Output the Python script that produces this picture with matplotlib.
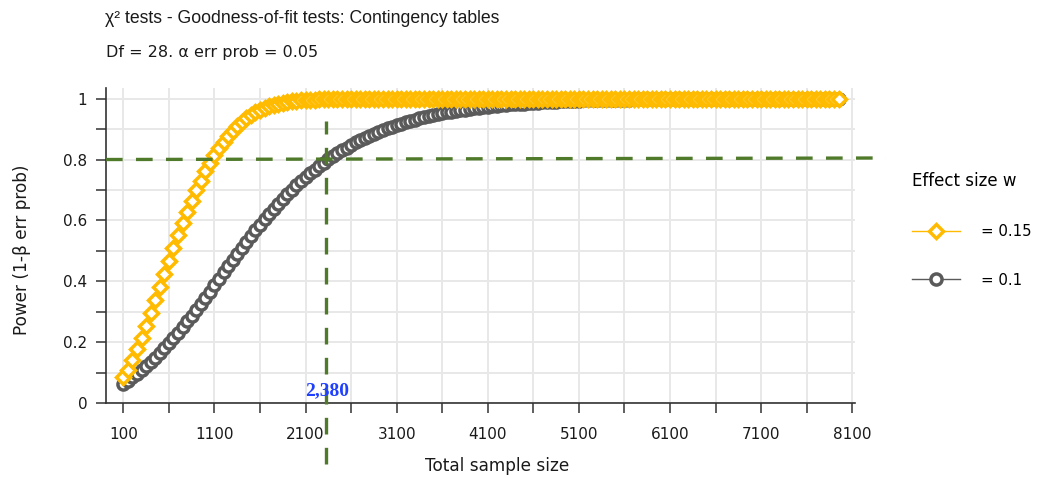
import matplotlib
matplotlib.use("Agg")
import matplotlib.pyplot as plt
from matplotlib.ticker import FixedLocator, FixedFormatter

plt.rcParams["font.family"] = ["DejaVu Sans"]

# total sample size, one marker every 50
sample_sizes = list(range(100, 8000, 50))

# power for w = 0.1 (grey circles)
power_w010 = [
    0.063, 0.073, 0.084, 0.096, 0.108, 0.121, 0.135, 0.149, 0.164, 0.180,
    0.196, 0.213, 0.230, 0.249, 0.268, 0.287, 0.306, 0.326, 0.346, 0.366,
    0.387, 0.408, 0.429, 0.450, 0.470, 0.490, 0.510, 0.530, 0.549, 0.568,
    0.586, 0.604, 0.621, 0.638, 0.655, 0.671, 0.686, 0.701, 0.715, 0.729,
    0.742, 0.755, 0.767, 0.779, 0.790, 0.801, 0.811, 0.821, 0.830, 0.839,
    0.848, 0.856, 0.864, 0.871, 0.878, 0.885, 0.891, 0.897, 0.903, 0.908,
    0.913, 0.918, 0.923, 0.927, 0.931, 0.935, 0.939, 0.942, 0.946, 0.949,
    0.952, 0.955, 0.957, 0.960, 0.962, 0.964, 0.966, 0.968, 0.970, 0.972,
    0.974, 0.975, 0.977, 0.978, 0.980, 0.981, 0.982, 0.983, 0.984, 0.985,
    0.986, 0.987, 0.988, 0.989, 0.990, 0.990, 0.991, 0.992, 0.992, 0.993,
    0.993, 0.994, 0.994, 0.995, 0.995, 0.996, 0.996, 0.996, 0.997, 0.997,
    0.997, 0.997, 0.998, 0.998, 0.998, 0.998, 0.998, 0.999, 0.999, 0.999,
    0.999, 0.999, 0.999, 0.999, 0.999, 0.999, 0.999, 1.0, 1.0, 1.0,
    1.0, 1.0, 1.0, 1.0, 1.0, 1.0, 1.0, 1.0, 1.0, 1.0,
    1.0, 1.0, 1.0, 1.0, 1.0, 1.0, 1.0, 1.0, 1.0, 1.0,
    1.0, 1.0, 1.0, 1.0, 1.0, 1.0, 1.0, 1.0,
]

# power for w = 0.15 (yellow diamonds)
power_w015 = [
    0.085, 0.110, 0.142, 0.177, 0.215, 0.254, 0.296, 0.338, 0.381, 0.424,
    0.467, 0.510, 0.551, 0.591, 0.629, 0.665, 0.699, 0.731, 0.761, 0.789,
    0.814, 0.838, 0.859, 0.878, 0.895, 0.910, 0.924, 0.936, 0.946, 0.955,
    0.963, 0.969, 0.975, 0.979, 0.983, 0.986, 0.989, 0.991, 0.993, 0.994,
    0.995, 0.996, 0.997, 0.998, 0.998, 0.999, 0.999, 0.999, 0.999, 0.999,
    0.999, 0.999, 0.999, 1.0, 1.0, 1.0, 1.0, 1.0, 1.0, 1.0,
    1.0, 1.0, 1.0, 1.0, 1.0, 1.0, 1.0, 1.0, 1.0, 1.0,
    1.0, 1.0, 1.0, 1.0, 1.0, 1.0, 1.0, 1.0, 1.0, 1.0,
    1.0, 1.0, 1.0, 1.0, 1.0, 1.0, 1.0, 1.0, 1.0, 1.0,
    1.0, 1.0, 1.0, 1.0, 1.0, 1.0, 1.0, 1.0, 1.0, 1.0,
    1.0, 1.0, 1.0, 1.0, 1.0, 1.0, 1.0, 1.0, 1.0, 1.0,
    1.0, 1.0, 1.0, 1.0, 1.0, 1.0, 1.0, 1.0, 1.0, 1.0,
    1.0, 1.0, 1.0, 1.0, 1.0, 1.0, 1.0, 1.0, 1.0, 1.0,
    1.0, 1.0, 1.0, 1.0, 1.0, 1.0, 1.0, 1.0, 1.0, 1.0,
    1.0, 1.0, 1.0, 1.0, 1.0, 1.0, 1.0, 1.0, 1.0, 1.0,
    1.0, 1.0, 1.0, 1.0, 1.0, 1.0, 1.0, 1.0,
]

x_major = [100, 1100, 2100, 3100, 4100, 5100, 6100, 7100, 8100]
x_minor = [600, 1600, 2600, 3600, 4600, 5600, 6600, 7600]
y_major = [0, 0.2, 0.4, 0.6, 0.8, 1.0]
y_major_labels = ["0", "0.2", "0.4", "0.6", "0.8", "1"]
y_minor = [0.1, 0.3, 0.5, 0.7, 0.9]

target_power = 0.8
marked_n = 2320
marked_label = "2,380"

YELLOW = "#FFBB00"
GREY = "#5a5a5a"
GREEN = "#4f7a2a"
TEXT = "#1a1a1a"

fig = plt.figure(figsize=(10.37, 4.78), dpi=100)
ax = fig.add_axes([0.1022, 0.1569, 0.7223, 0.659])

ax.plot(sample_sizes, power_w010, color=GREY, lw=1, marker="o", ms=8,
        mfc="white", mec=GREY, mew=2.5, label="= 0.1", zorder=3)
ax.plot(sample_sizes, power_w015, color=YELLOW, lw=1, marker="D", ms=7,
        mfc="white", mec=YELLOW, mew=2.5, label="= 0.15", zorder=4)

# dashed reference lines, running past the axes
ax.plot([-90, 8470], [target_power, target_power + 0.005], color=GREEN,
        lw=2.4, dashes=(5, 4), clip_on=False, zorder=5)
ax.plot([marked_n, marked_n], [-0.2, 0.925], color=GREEN,
        lw=2.4, dashes=(5, 4), clip_on=False, zorder=5)
ax.text(marked_n + 15, 0.04, marked_label, color="#2040ff", fontsize=14,
        fontweight="bold", family="Liberation Serif", ha="center", va="center",
        zorder=6)

ax.set_xlim(-90, 8130)
ax.set_ylim(0, 1.035)

ax.xaxis.set_major_locator(FixedLocator(x_major))
ax.xaxis.set_minor_locator(FixedLocator(x_minor))
ax.yaxis.set_major_locator(FixedLocator(y_major))
ax.yaxis.set_major_formatter(FixedFormatter(y_major_labels))
ax.yaxis.set_minor_locator(FixedLocator(y_minor))

ax.grid(True, which="both", color="#e8e8e8", lw=1.4)
ax.set_axisbelow(True)

for side in ["top", "right"]:
    ax.spines[side].set_visible(False)
for side in ["left", "bottom"]:
    ax.spines[side].set_color("#333333")
    ax.spines[side].set_linewidth(1.2)

ax.tick_params(axis="x", which="both", direction="out", length=7, width=1.1,
               color="#333333", pad=10.5, labelsize=11, labelcolor=TEXT)
ax.tick_params(axis="y", which="both", direction="out", length=7, width=1.1,
               color="#333333", pad=6.5, labelsize=11, labelcolor=TEXT)

ax.set_xlabel("Total sample size", fontsize=12.2, color=TEXT)
ax.xaxis.set_label_coords(0.522, -0.172)
ax.set_ylabel("Power (1-β err prob)", fontsize=12.2, color=TEXT)
ax.yaxis.set_label_coords(-0.1, 0.486)

fig.text(0.101, 0.962, "χ² tests - Goodness-of-fit tests: Contingency tables",
         fontsize=12.7, family="Liberation Sans", color=TEXT,
         ha="left", va="center")
fig.text(0.102, 0.891, "Df = 28. α err prob = 0.05",
         fontsize=11.5, color=TEXT, ha="left", va="center")

handles, labels = ax.get_legend_handles_labels()
leg = fig.legend(handles[::-1], labels[::-1], title="Effect size w",
                 loc="upper left", bbox_to_anchor=(0.879, 0.64),
                 frameon=False, fontsize=10.8, title_fontsize=12,
                 handlelength=3.2, handletextpad=1.4, labelspacing=2.25,
                 borderpad=0, borderaxespad=0, alignment="left")

fig.savefig("out.png", dpi=100)
